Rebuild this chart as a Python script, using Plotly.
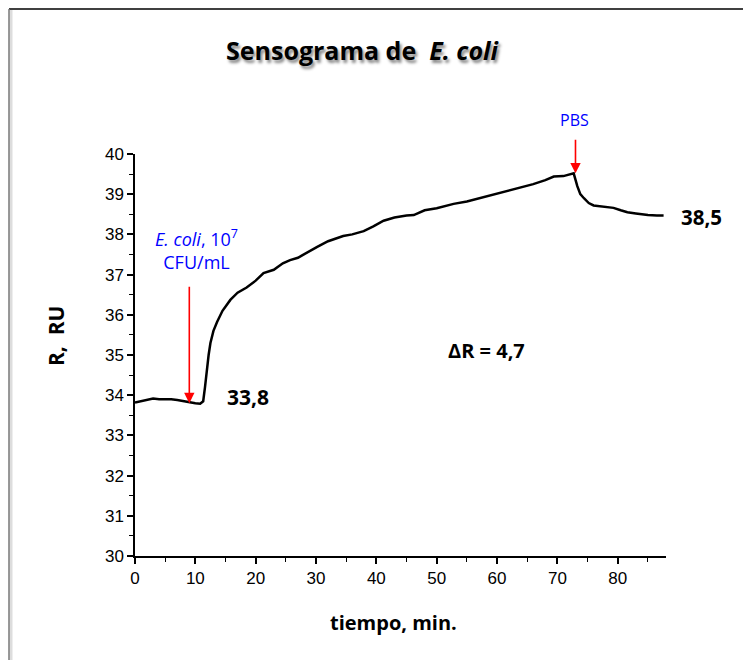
import plotly.graph_objects as go

# ---- data ----
time_min = [0, 1, 2, 3, 4, 5, 6, 7, 8, 9, 10, 10.8, 11.3, 11.6, 11.9, 12.2, 12.5, 13.0,
            13.6, 14.5, 15.8, 17.0, 18.5, 20.0, 21.3, 23.0, 24.5, 25.7, 27.0, 28.5,
            30.2, 32.0, 34.5, 36.0, 37.9, 39.5, 41.2, 43.0, 45.0, 46.2, 48.0, 50.0,
            52.8, 55.0, 58.4, 60.0, 62.0, 64.0, 66.0, 68.0, 69.4, 71.0, 72.7, 73.3,
            73.8, 74.4, 75.2, 76.0, 77.5, 79.3, 80.5, 81.6, 83.0, 85.0, 86.5, 87.6]
response_ru = [33.82, 33.85, 33.88, 33.92, 33.90, 33.90, 33.90, 33.88, 33.85, 33.83, 33.80,
               33.79, 33.85, 34.2, 34.63, 35.0, 35.3, 35.6, 35.82, 36.1, 36.37, 36.55,
               36.68, 36.85, 37.04, 37.12, 37.28, 37.36, 37.42, 37.55, 37.69, 37.83,
               37.96, 38.0, 38.08, 38.2, 38.34, 38.42, 38.47, 38.48, 38.6, 38.65, 38.76,
               38.82, 38.95, 39.02, 39.1, 39.18, 39.25, 39.35, 39.44, 39.45, 39.52, 39.2,
               39.0, 38.9, 38.78, 38.72, 38.7, 38.66, 38.6, 38.55, 38.52, 38.48, 38.47,
               38.47]

x_ticks = [0, 10, 20, 30, 40, 50, 60, 70, 80]
y_ticks = [30, 31, 32, 33, 34, 35, 36, 37, 38, 39, 40]

injection_time, injection_level = 9, 33.8
pbs_time, pbs_level = 73, 39.52
final_time, final_level = 87.6, 38.5
delta_label = "ΔR = 4,7"

OFF = 8  # page offset of the plot div
W, H = 751 - OFF, 660 - OFF
# target screen positions of plot area
SX0, SX1, SY0, SY1 = 135, 666, 154, 556
L, R = SX0 - OFF, W - (SX1 - OFF)
T, B = SY0 - OFF, H - (SY1 - OFF)
pw, ph = W - L - R, H - T - B

def px(xs):
    return (xs - SX0) / pw

def py(ys):
    return (SY1 - ys) / ph

TXT = "Open Sans, Lato, sans-serif"
TICK = "Liberation Sans, Arial, sans-serif"

fig = go.Figure()
fig.add_trace(go.Scatter(x=time_min, y=response_ru, mode="lines",
                         line=dict(color="black", width=2.5), showlegend=False,
                         hoverinfo="skip"))

fig.update_layout(
    width=W, height=H,
    margin=dict(l=L, r=R, t=T, b=B),
    paper_bgcolor="white", plot_bgcolor="white",
    showlegend=False,
    xaxis=dict(range=[0, 88], tickvals=x_ticks, showgrid=False, zeroline=False,
               showline=True, linecolor="black", linewidth=1.5,
               ticks="outside", ticklen=6, tickwidth=1.5, tickcolor="black",
               tickfont=dict(family=TICK, size=17, color="black"),
               minor=dict(dtick=5, tick0=0, ticks="outside", ticklen=4,
                          tickwidth=1.2, tickcolor="black", showgrid=False)),
    yaxis=dict(range=[30, 40], tickvals=y_ticks, showgrid=False, zeroline=False,
               showline=True, linecolor="black", linewidth=1.5,
               ticks="outside", ticklen=6, tickwidth=1.5, tickcolor="black",
               tickfont=dict(family=TICK, size=17, color="black"),
               minor=dict(dtick=0.5, tick0=30, ticks="outside", ticklen=4,
                          tickwidth=1.2, tickcolor="black", showgrid=False)),
)

# frame around the figure
fig.add_shape(type="line", xref="paper", yref="paper",
              x0=px(9), x1=px(760), y0=py(9), y1=py(9),
              line=dict(color="black", width=1.5))
fig.add_shape(type="line", xref="paper", yref="paper",
              x0=px(11), x1=px(11), y0=py(10), y1=py(670),
              line=dict(color="#dddddd", width=3))
fig.add_shape(type="line", xref="paper", yref="paper",
              x0=px(9), x1=px(9), y0=py(9), y1=py(670),
              line=dict(color="#777777", width=1.5))

def label(xs, ys, text, size, color="black", **kw):
    d = dict(xref="paper", yref="paper", x=px(xs), y=py(ys), text=text,
             showarrow=False, xanchor="center", yanchor="middle",
             font=dict(family=TXT, size=size, color=color))
    d["font"].update(kw.pop("font_extra", {}))
    d.update(kw)
    return d

ann = []
ann.append(label(362, 50, "<b>Sensograma de  <i>E. coli</i></b>", 25,
                 font_extra=dict(shadow="2px 3px 3px #888888")))
ann.append(label(393, 622, "<b>tiempo, min.</b>", 20))
ann.append(label(56, 336, "<b>R,  RU</b>", 21, textangle=-90))
ann.append(label(196, 249, "<i>E. coli</i>, 10<sup>7</sup><br>CFU/mL", 18, color="blue"))
ann.append(dict(x=injection_time, y=injection_level, xref="x", yref="y",
                ax=0, ay=-118, text="", showarrow=True, arrowhead=2,
                arrowsize=1.3, arrowwidth=1.6, arrowcolor="red"))
ann.append(label(248, 397, "<b>33,8</b>", 21))
ann.append(dict(x=pbs_time, y=pbs_level, xref="x", yref="y",
                ax=0, ay=-35, text="", showarrow=True, arrowhead=2,
                arrowsize=1.3, arrowwidth=1.6, arrowcolor="red"))
ann.append(label(574, 120, "PBS", 16, color="blue"))
ann.append(label(701, 217, "<b>38,5</b>", 20.5))
ann.append(label(486, 350, "<b>" + delta_label + "</b>", 20))
fig.update_layout(annotations=ann)

fig.write_html("out.html")
